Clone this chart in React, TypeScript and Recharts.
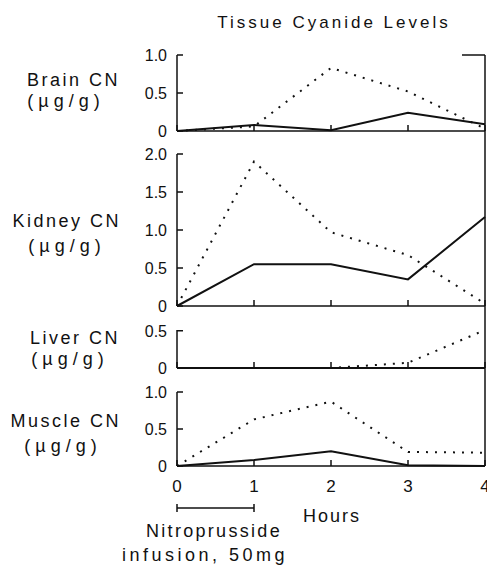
import { Line, LineChart, XAxis, YAxis } from "recharts";

const hours = [0, 1, 2, 3, 4];

const brainSolid = [0, 0.08, 0.01, 0.24, 0.09];
const brainDotted = [0, 0.06, 0.83, 0.52, 0.03];
const kidneySolid = [0, 0.55, 0.55, 0.35, 1.17];
const kidneyDotted = [0, 1.9, 0.97, 0.67, 0.03];
const liverSolid = [0, 0, 0, 0, 0];
const liverDotted = [0, 0, 0, 0.07, 0.51];
const muscleSolid = [0, 0.08, 0.2, 0.01, 0];
const muscleDotted = [0, 0.63, 0.87, 0.19, 0.18];

const brainTicks = [0, 0.5, 1.0];
const kidneyTicks = [0, 0.5, 1.0, 1.5, 2.0];
const liverTicks = [0, 0.5];
const muscleTicks = [0, 0.5, 1.0];

const FONT = "'Liberation Sans', Arial, sans-serif";
const INK = "#111";

const fmt = (v: number) => (v === 0 ? "0" : v.toFixed(1));

function YTick(props: any) {
    const { x, y, payload } = props;
    return (
        <g>
            <line x1={x} x2={x + 6} y1={y} y2={y} stroke={INK} strokeWidth={1.5} />
            <text x={x - 10} y={y} dy={6} textAnchor="end" fontSize={16} fontFamily={FONT} fill={INK}>
                {fmt(payload.value)}
            </text>
        </g>
    );
}

function XTick(props: any) {
    const { x, y, payload, showLabel } = props;
    return (
        <g>
            <line x1={x} x2={x} y1={y} y2={y - 6} stroke={INK} strokeWidth={1.5} />
            {showLabel && (
                <text x={x} y={y + 26} textAnchor="middle" fontSize={17} fontFamily={FONT} fill={INK}>
                    {payload.value}
                </text>
            )}
        </g>
    );
}

function Panel({
    top,
    plotHeight,
    max,
    ticks,
    solid,
    dotted,
    bottom,
    showHours,
}: {
    top: number;
    plotHeight: number;
    max: number;
    ticks: number[];
    solid: number[];
    dotted: number[];
    bottom: number;
    showHours: boolean;
}) {
    const data = hours.map((h, i) => ({ hour: h, solid: solid[i], dotted: dotted[i] }));
    return (
        <div style={{ position: "absolute", left: 0, top: top - 10 }}>
            <LineChart
                width={487}
                height={10 + plotHeight + 1 + bottom}
                data={data}
                margin={{ top: 10, right: 2, bottom, left: 137 }}
                style={{ overflow: "visible" }}
            >
                <XAxis
                    dataKey="hour"
                    type="number"
                    domain={[0, 4]}
                    ticks={hours}
                    interval={0}
                    height={1}
                    tickSize={0}
                    tickMargin={0}
                    tickLine={false}
                    axisLine={{ stroke: INK, strokeWidth: 1.5 }}
                    tick={(p: any) => <XTick {...p} showLabel={showHours} />}
                />
                <YAxis
                    type="number"
                    domain={[0, max]}
                    ticks={ticks}
                    interval={0}
                    width={40}
                    tickSize={0}
                    tickMargin={0}
                    tickLine={false}
                    axisLine={{ stroke: INK, strokeWidth: 1.5 }}
                    tick={(p: any) => <YTick {...p} />}
                />
                <Line
                    dataKey="dotted"
                    type="linear"
                    stroke={INK}
                    strokeWidth={2}
                    strokeDasharray="2 7"
                    dot={false}
                    activeDot={false}
                    isAnimationActive={false}
                />
                <Line
                    dataKey="solid"
                    type="linear"
                    stroke={INK}
                    strokeWidth={2}
                    dot={false}
                    activeDot={false}
                    isAnimationActive={false}
                />
            </LineChart>
        </div>
    );
}

function Labels() {
    const label = { fontFamily: FONT, fill: INK, fontSize: 18 };
    return (
        <svg width={487} height={565} style={{ position: "absolute", left: 0, top: 0 }}>
            <text x={334} y={28} textAnchor="middle" letterSpacing={3} {...label} fontSize={17}>
                Tissue Cyanide Levels
            </text>

            <text x={120} y={86} textAnchor="end" letterSpacing={2.5} {...label}>Brain CN</text>
            <text x={66} y={107} textAnchor="middle" letterSpacing={5} {...label}>(µg/g)</text>

            <text x={121} y={227} textAnchor="end" letterSpacing={2.5} {...label}>Kidney CN</text>
            <text x={67} y={252} textAnchor="middle" letterSpacing={5} {...label}>(µg/g)</text>

            <text x={120} y={344} textAnchor="end" letterSpacing={2.5} {...label}>Liver CN</text>
            <text x={70} y={365} textAnchor="middle" letterSpacing={5} {...label}>(µg/g)</text>

            <text x={121} y={427} textAnchor="end" letterSpacing={2.5} {...label}>Muscle CN</text>
            <text x={63} y={452} textAnchor="middle" letterSpacing={5} {...label}>(µg/g)</text>

            <line x1={485} x2={485} y1={55} y2={466} stroke={INK} strokeWidth={1.5} />
            <line x1={462} x2={485} y1={55} y2={55} stroke={INK} strokeWidth={1.5} />

            <line x1={177} x2={254} y1={508} y2={508} stroke={INK} strokeWidth={1.5} />
            <line x1={177} x2={177} y1={504} y2={512} stroke={INK} strokeWidth={1.5} />
            <line x1={254} x2={254} y1={504} y2={512} stroke={INK} strokeWidth={1.5} />

            <text x={332} y={522} textAnchor="middle" letterSpacing={2} {...label}>Hours</text>
            <text x={214} y={537} textAnchor="middle" letterSpacing={2.3} {...label}>Nitroprusside</text>
            <text x={205} y={561} textAnchor="middle" letterSpacing={3.5} {...label}>infusion, 50mg</text>
        </svg>
    );
}

export default function App() {
    return (
        <div style={{ position: "absolute", left: 0, top: 0, width: 487, height: 565, background: "#fff" }}>
            <Labels />
            <Panel top={55} plotHeight={76} max={1} ticks={brainTicks} solid={brainSolid} dotted={brainDotted} bottom={10} showHours={false} />
            <Panel top={154} plotHeight={152} max={2} ticks={kidneyTicks} solid={kidneySolid} dotted={kidneyDotted} bottom={10} showHours={false} />
            <Panel top={330} plotHeight={38} max={0.5} ticks={liverTicks} solid={liverSolid} dotted={liverDotted} bottom={10} showHours={false} />
            <Panel top={392} plotHeight={74} max={1} ticks={muscleTicks} solid={muscleSolid} dotted={muscleDotted} bottom={40} showHours={true} />
        </div>
    );
}
